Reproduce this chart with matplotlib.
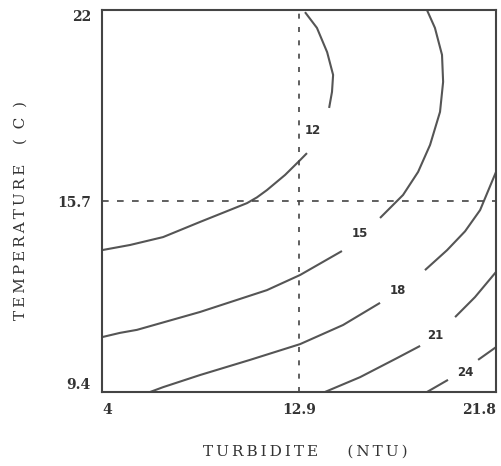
import matplotlib
matplotlib.use("Agg")
import matplotlib.pyplot as plt

# Axis ranges / ticks
x_ticks = [4, 12.9, 21.8]
y_ticks = [9.4, 15.7, 22]
x_tick_labels = ["4", "12.9", "21.8"]
y_tick_labels = ["9.4", "15.7", "22"]
ref_x = 12.9
ref_y = 15.7

# Contour lines: each level -> segments (x list, y list)
c12_seg1_x = [4.0, 5.27, 6.76, 8.43, 9.56, 10.55, 11.00, 11.45, 12.27, 12.95, 13.26]
c12_seg1_y = [14.08, 14.25, 14.51, 15.01, 15.34, 15.63, 15.82, 16.06, 16.56, 17.05, 17.28]
c12_seg2_x = [14.26, 14.39, 14.44, 14.17, 13.71, 13.17]
c12_seg2_y = [18.77, 19.30, 19.86, 20.61, 21.41, 21.93]

c15_seg1_x = [4.0, 4.81, 5.58, 8.43, 11.45, 12.95, 14.84]
c15_seg1_y = [11.21, 11.35, 11.45, 12.04, 12.76, 13.26, 14.05]
c15_seg2_x = [16.56, 17.60, 18.28, 18.82, 19.27, 19.41, 19.36, 19.04, 18.68]
c15_seg2_y = [15.14, 15.90, 16.66, 17.55, 18.64, 19.63, 20.52, 21.41, 22.0]

c18_seg1_x = [6.17, 6.76, 8.43, 10.69, 12.95, 14.89, 16.56]
c18_seg1_y = [9.4, 9.56, 9.96, 10.46, 10.98, 11.61, 12.34]
c18_seg2_x = [18.59, 19.59, 20.40, 21.08, 21.8]
c18_seg2_y = [13.42, 14.08, 14.70, 15.40, 16.66]

c21_seg1_x = [14.07, 15.66, 17.33, 18.37]
c21_seg1_y = [9.4, 9.89, 10.52, 10.92]
c21_seg2_x = [19.95, 20.85, 21.8]
c21_seg2_y = [11.87, 12.53, 13.36]

c24_seg1_x = [18.68, 19.63]
c24_seg1_y = [9.4, 9.80]
c24_seg2_x = [20.99, 21.8]
c24_seg2_y = [10.46, 10.88]

segments = [
    (c12_seg1_x, c12_seg1_y), (c12_seg2_x, c12_seg2_y),
    (c15_seg1_x, c15_seg1_y), (c15_seg2_x, c15_seg2_y),
    (c18_seg1_x, c18_seg1_y), (c18_seg2_x, c18_seg2_y),
    (c21_seg1_x, c21_seg1_y), (c21_seg2_x, c21_seg2_y),
    (c24_seg1_x, c24_seg1_y), (c24_seg2_x, c24_seg2_y),
]

label_texts = ["12", "15", "18", "21", "24"]
label_x = [13.53, 15.66, 17.37, 19.04, 20.40]
label_y = [18.04, 14.64, 12.76, 11.28, 10.03]

line_color = "#555555"

fig = plt.figure(figsize=(5.02, 4.66), dpi=100)
ax = fig.add_axes([0.2032, 0.1588, 0.7849, 0.8197])
ax.set_xlim(4, 21.8)
ax.set_ylim(9.4, 22)

for xs, ys in segments:
    ax.plot(xs, ys, color=line_color, lw=1.5, solid_capstyle="butt",
            solid_joinstyle="round")

for t, lx, ly in zip(label_texts, label_x, label_y):
    ax.text(lx, ly, t, fontsize=8.5, color="#333333", ha="center", va="center",
            family="DejaVu Sans", fontweight="bold")

ax.axvline(ref_x, color="#444444", lw=1.2, ls=(0, (3, 5)))
ax.axhline(ref_y, color="#444444", lw=1.2, ls=(0, (4, 5)))

for s in ax.spines.values():
    s.set_color("#444444")
    s.set_linewidth(1.5)

ax.set_xticks(x_ticks)
ax.set_xticklabels(x_tick_labels, family="DejaVu Serif", fontsize=10,
                   fontweight="bold", color="#333333")
ax.set_yticks(y_ticks)
ax.set_yticklabels(y_tick_labels, family="DejaVu Serif", fontsize=10,
                   fontweight="bold", color="#333333")
ax.tick_params(length=0, pad=8)
xl = ax.get_xticklabels()
xl[0].set_ha("left")
xl[-1].set_ha("right")
yl = ax.get_yticklabels()
yl[0].set_va("bottom")
yl[-1].set_va("top")

ts = "\u2009"
xlabel = ts.join("TURBIDITE") + "      " + ts.join("(NTU)")
ylabel = ts.join("TEMPERATURE") + "    " + "(  C  )"
fig.text(305 / 502, 1 - 452 / 466, xlabel, family="DejaVu Serif",
         fontsize=11, color="#333333", ha="center", va="center")
fig.text(21 / 502, 1 - 210 / 466, ylabel, family="DejaVu Serif",
         fontsize=11, color="#333333", ha="center", va="center", rotation=90)

fig.savefig("out.png", dpi=100)
